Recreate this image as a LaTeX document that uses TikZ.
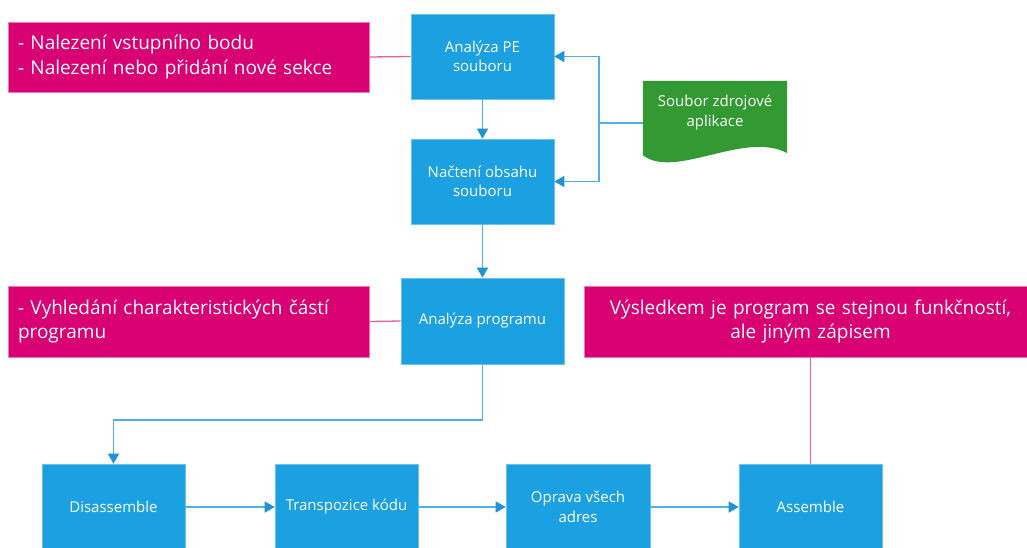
\documentclass[tikz,border=0pt]{standalone}
\usepackage{fontspec}
\setmainfont{Open Sans}
\usetikzlibrary{arrows.meta}
\definecolor{boxblue}{HTML}{1BA1E2}
\definecolor{boxedge}{HTML}{6CC3EE}
\definecolor{linkblue}{HTML}{4FB0E6}
\definecolor{tipblue}{HTML}{1F93D6}
\definecolor{magenta}{HTML}{D80073}
\definecolor{magedge}{HTML}{EE7AB4}
\definecolor{linkpink}{HTML}{E8619F}
\definecolor{docgreen}{HTML}{339933}
\tikzset{
  stepbox/.style={rectangle, fill=boxblue, draw=boxedge, line width=0.6pt,
    text=white, align=center, inner sep=0pt,
    font=\fontsize{15}{19.5}\selectfont},
  notebox/.style={rectangle, fill=magenta, draw=magedge, line width=0.6pt,
    text=white, inner xsep=10pt, inner ysep=0pt,
    font=\fontsize{19}{24.5}\selectfont},
  conn/.style={draw=linkblue, line width=1.3pt,
    -{Triangle[length=10pt,width=11pt,color=tipblue]}},
  plainconn/.style={draw=linkblue, line width=1.3pt},
  pinklink/.style={draw=linkpink, line width=1.3pt},
}
\begin{document}
\begin{tikzpicture}[x=1pt,y=-1pt]
\useasboundingbox[fill=white] (0,0) rectangle (1027,547);
% blue process boxes
\node[stepbox, minimum width=143pt, minimum height=85pt] (ape) at (482.5,56.5) {Analýza PE\\souboru};
\node[stepbox, minimum width=143pt, minimum height=85pt] (nac) at (482.5,181.5) {Načtení obsahu\\souboru};
\node[stepbox, minimum width=163pt, minimum height=86pt] (prog) at (482.5,321) {Analýza programu};
\node[stepbox, minimum width=143pt, minimum height=86pt] (dis) at (113.5,507) {Disassemble};
\node[stepbox, minimum width=143pt, minimum height=86pt] (trans) at (346.5,507) {Transpozice kódu};
\node[stepbox, minimum width=144pt, minimum height=86pt] (opr) at (578,507) {Oprava všech\\adres};
\node[stepbox, minimum width=143pt, minimum height=86pt] (asm) at (810.5,507) {Assemble};
% magenta notes
\node[notebox, minimum width=361pt, minimum height=70pt, text width=341pt, align=left] (n1) at (188.5,57)
  {- Nalezení vstupního bodu\\- Nalezení nebo přidání nové sekce};
\node[notebox, minimum width=361pt, minimum height=71pt, text width=341pt, align=left] (n2) at (188.5,321.5)
  {- Vyhledání charakteristických částí\\programu};
\node[notebox, minimum width=453pt, minimum height=71pt, text width=433pt, align=center] (n3) at (810.5,321.5)
  {Výsledkem je program se stejnou funkčností,\\ale jiným zápisem};
% green document shape
\node[minimum width=144pt, minimum height=84pt, inner sep=0pt] (doc) at (715,123) {};
\fill[docgreen] (doc.north west) -- (doc.north east) -- ([yshift=12pt]doc.south east)
  .. controls (745,130) and (675,180) .. ([yshift=10pt]doc.south west) -- cycle;
\node[text=white, align=center, font=\fontsize{15}{20}\selectfont] (doctext) at (715,113) {Soubor zdrojové\\aplikace};
% connectors
\coordinate (j1) at (599,123);
\coordinate (bend) at (482.5,420);
\draw[conn] (ape.south) -- (nac.north);
\draw[plainconn] (doc.west) -- (j1);
\draw[conn] (j1) |- (ape.east);
\draw[conn] (j1) |- (nac.east);
\draw[conn] (nac.south) -- (prog.north);
\draw[conn] (prog.south) -- (bend) -| (dis.north);
\draw[conn] (dis.east) -- (trans.west);
\draw[conn] (trans.east) -- (opr.west);
\draw[conn] (opr.east) -- (asm.west);
\draw[pinklink] (n1.east) -- (ape.west);
\draw[pinklink] (n2.east) -- (prog.west);
\draw[pinklink] (n3.south) -- (asm.north);
\end{tikzpicture}
\end{document}
